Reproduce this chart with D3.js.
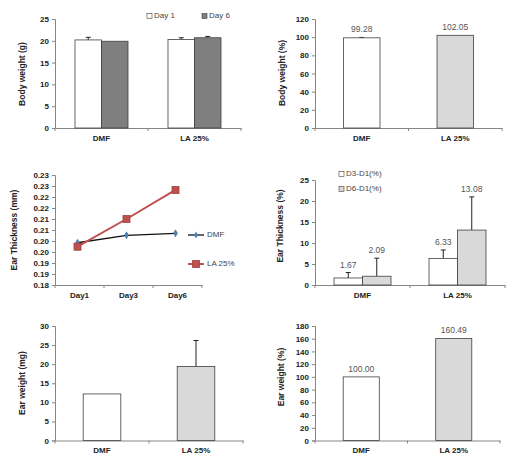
<!DOCTYPE html>
<html><head><meta charset="utf-8">
<script src="https://cdn.jsdelivr.net/npm/d3@7/dist/d3.min.js"></script>
<style>
body{margin:0;background:#fff;}
svg{font-family:"Liberation Sans",Arial,sans-serif;}
</style></head>
<body>
<svg id="c" width="517" height="468"></svg>
<script>
// ---------- DATA ----------
const groups = ["DMF", "LA 25%"];
// Panel 1: body weight (g)
const bwSeries = ["Day 1", "Day 6"];
const bwDay1 = [20.2, 20.3];
const bwDay1Err = [0.6, 0.4];
const bwDay6 = [19.9, 20.7];
const bwDay6Err = [0, 0.3];
const bwTicks = [0, 5, 10, 15, 20, 25];
// Panel 2: body weight (%)
const bwPct = [99.28, 102.05];
const bwPctErr = [0.4, 0];
const bwPctTicks = [0, 20, 40, 60, 80, 100, 120];
// Panel 3: ear thickness (mm)
const days = ["Day1", "Day3", "Day6"];
const etDMF = [0.1992, 0.2026, 0.2035];
const etLA = [0.1974, 0.2100, 0.2232];
const etTickValues = [0.18, 0.185, 0.19, 0.195, 0.20, 0.205, 0.21, 0.215, 0.22, 0.225, 0.23];
const etTickLabels = ["0.18", "0.19", "0.19", "0.20", "0.20", "0.21", "0.21", "0.22", "0.22", "0.23", "0.23"];
// Panel 4: ear thickness (%)
const etPctSeries = ["D3-D1(%)", "D6-D1(%)"];
const etD3 = [1.67, 6.33];
const etD3Err = [1.3, 2.0];
const etD6 = [2.09, 13.08];
const etD6Err = [4.3, 7.9];
const etPctTicks = [0, 5, 10, 15, 20, 25];
// Panel 5: ear weight (mg)
const ewMg = [12.2, 19.4];
const ewMgErr = [0, 6.8];
const ewMgTicks = [0, 5, 10, 15, 20, 25, 30];
// Panel 6: ear weight (%)
const ewPct = [100.00, 160.49];
const ewPctTicks = [0, 20, 40, 60, 80, 100, 120, 140, 160, 180];

// ---------- STYLE ----------
const WHITE = "#ffffff", DARK = "#7f7f7f", LIGHT = "#d9d9d9", BORDER = "#404040";
const AXIS = "#868686";
const svg = d3.select("#c");

function drawAxes(g, y, x, ticks, tickFmt, cfg) {
  const ya = d3.axisLeft(y).tickValues(ticks).tickSize(3).tickPadding(3).tickFormat(tickFmt);
  const yg = g.append("g").attr("transform", `translate(${cfg.x0},0)`).call(ya);
  yg.select(".domain").attr("stroke", AXIS);
  yg.selectAll(".tick line").attr("stroke", AXIS);
  yg.selectAll("text").attr("font-size", 8).attr("font-weight", "bold").attr("fill", "#222");
  const xa = d3.axisBottom(x).tickSize(0).tickPadding(7);
  const xg = g.append("g").attr("transform", `translate(0,${cfg.y0})`).call(xa);
  xg.select(".domain").attr("stroke", AXIS);
  xg.selectAll("text").attr("font-size", 8).attr("font-weight", "bold").attr("fill", "#222");
  const bounds = x.domain().map(d => x(d));
  bounds.push(x.range()[1]);
  g.append("g").selectAll("line").data(bounds).join("line")
    .attr("x1", d => d).attr("x2", d => d)
    .attr("y1", cfg.y0).attr("y2", cfg.y0 + 3).attr("stroke", AXIS);
  g.append("text").attr("transform", `translate(${cfg.tx},${cfg.ty}) rotate(-90)`)
    .attr("text-anchor", "middle").attr("dominant-baseline", "middle")
    .attr("font-size", 8.5).attr("font-weight", "bold").attr("fill", "#222").text(cfg.title);
}

function barPanel(cfg) {
  const g = svg.append("g");
  const y = d3.scaleLinear().domain(cfg.domain).range([cfg.y0, cfg.y1]);
  const x = d3.scaleBand().domain(groups).range([cfg.x0, cfg.x1]).padding(0);
  const nS = cfg.series.length;
  const sub = d3.scaleBand().domain(d3.range(nS))
    .range([x.bandwidth() * (1 - cfg.frac) / 2, x.bandwidth() * (1 + cfg.frac) / 2]).padding(0);
  drawAxes(g, y, x, cfg.ticks, d => d, cfg);
  cfg.series.forEach((s, si) => {
    const data = groups.map((grp, i) => ({grp, i, v: s.values[i], e: s.errs ? s.errs[i] : 0}));
    const eg = g.append("g");
    data.filter(d => d.e > 0).forEach(d => {
      const cx = x(d.grp) + sub(si) + sub.bandwidth() / 2;
      eg.append("line").attr("x1", cx).attr("x2", cx).attr("y1", y(d.v)).attr("y2", y(d.v + d.e))
        .attr("stroke", "#222").attr("stroke-width", 1);
      eg.append("line").attr("x1", cx - 2.5).attr("x2", cx + 2.5).attr("y1", y(d.v + d.e)).attr("y2", y(d.v + d.e))
        .attr("stroke", "#222").attr("stroke-width", 1);
    });
    g.append("g").selectAll("rect").data(data).join("rect")
      .attr("x", d => x(d.grp) + sub(si)).attr("width", sub.bandwidth())
      .attr("y", d => y(d.v)).attr("height", d => y(0) - y(d.v))
      .attr("fill", d => s.colors[d.i]).attr("stroke", BORDER).attr("stroke-width", 0.8);
    if (s.showLabels) {
      g.append("g").selectAll("text").data(data).join("text")
        .attr("x", d => x(d.grp) + sub(si) + sub.bandwidth() / 2)
        .attr("y", d => y(d.v + d.e) - 5)
        .attr("text-anchor", "middle").attr("font-size", 8.5).attr("fill", "#555")
        .text(d => d.v.toFixed(2));
    }
  });
  if (cfg.legend) {
    const lg = g.append("g");
    cfg.series.forEach((s, si) => {
      const p = cfg.legend[si];
      lg.append("rect").attr("x", p[0]).attr("y", p[1] - 2.5).attr("width", 5).attr("height", 5)
        .attr("fill", s.colors[0]).attr("stroke", BORDER).attr("stroke-width", 0.6);
      lg.append("text").attr("x", p[0] + 7).attr("y", p[1]).attr("dominant-baseline", "middle")
        .attr("font-size", 8).attr("fill", "#444").text(s.name);
    });
  }
}

// Panel 1
barPanel({x0: 55, x1: 241, y0: 128, y1: 19, domain: [0, 25], ticks: bwTicks, frac: 0.57,
  tx: 23, ty: 74, title: "Body weight (g)",
  series: [{name: bwSeries[0], values: bwDay1, errs: bwDay1Err, colors: [WHITE, WHITE]},
           {name: bwSeries[1], values: bwDay6, errs: bwDay6Err, colors: [DARK, DARK]}],
  legend: [[147, 16], [202, 16]]});
// Panel 2
barPanel({x0: 315, x1: 502, y0: 128, y1: 19, domain: [0, 120], ticks: bwPctTicks, frac: 0.39,
  tx: 283, ty: 73, title: "Body weight (%)",
  series: [{name: "pct", values: bwPct, errs: bwPctErr, colors: [WHITE, LIGHT], showLabels: true}]});
// Panel 4
barPanel({x0: 315, x1: 505, y0: 285, y1: 180, domain: [0, 25], ticks: etPctTicks, frac: 0.6,
  tx: 281, ty: 226, title: "Ear Thickness (%)",
  series: [{name: etPctSeries[0], values: etD3, errs: etD3Err, colors: [WHITE, WHITE], showLabels: true},
           {name: etPctSeries[1], values: etD6, errs: etD6Err, colors: [LIGHT, LIGHT], showLabels: true}],
  legend: [[339, 174], [339, 189]]});
// Panel 5
barPanel({x0: 55, x1: 243, y0: 440.5, y1: 326, domain: [0, 30], ticks: ewMgTicks, frac: 0.4,
  tx: 23, ty: 383, title: "Ear weight (mg)",
  series: [{name: "mg", values: ewMg, errs: ewMgErr, colors: [WHITE, LIGHT]}]});
// Panel 6
barPanel({x0: 315, x1: 500, y0: 440.5, y1: 326, domain: [0, 180], ticks: ewPctTicks, frac: 0.39,
  tx: 282, ty: 377, title: "Ear weight (%)",
  series: [{name: "pct", values: ewPct, colors: [WHITE, LIGHT], showLabels: true}]});

// Panel 3: line chart
(function(){
  const g = svg.append("g");
  const y = d3.scaleLinear().domain([0.18, 0.23]).range([285, 175]);
  const x = d3.scaleBand().domain(days).range([55, 202]).padding(0);
  drawAxes(g, y, x, etTickValues, (d, i) => etTickLabels[i],
    {x0: 55, y0: 285, tx: 15, ty: 230, title: "Ear Thickness (mm)"});
  const cx = d => x(d) + x.bandwidth() / 2 - 2;
  const line = d3.line().x((d, i) => cx(days[i])).y(d => y(d));
  g.append("path").datum(etDMF).attr("d", line).attr("fill", "none").attr("stroke", "#111").attr("stroke-width", 1.3);
  g.append("path").datum(etLA).attr("d", line).attr("fill", "none").attr("stroke", "#c0504d").attr("stroke-width", 2);
  const diamond = d3.symbol().type(d3.symbolDiamond).size(14);
  g.append("g").selectAll("path").data(etDMF).join("path")
    .attr("transform", (d, i) => `translate(${cx(days[i])},${y(d)})`).attr("d", diamond)
    .attr("fill", "#4f81bd").attr("stroke", "#385d8a").attr("stroke-width", 0.5);
  g.append("g").selectAll("rect").data(etLA).join("rect")
    .attr("x", (d, i) => cx(days[i]) - 3.5).attr("y", d => y(d) - 3.5).attr("width", 7).attr("height", 7)
    .attr("fill", "#c0504d").attr("stroke", "#a0403d").attr("stroke-width", 0.8);
  const lg = g.append("g");
  lg.append("line").attr("x1", 188).attr("x2", 204).attr("y1", 235).attr("y2", 235).attr("stroke", "#111").attr("stroke-width", 1.3);
  lg.append("path").attr("transform", "translate(196,235)").attr("d", diamond).attr("fill", "#4f81bd");
  lg.append("text").attr("x", 207).attr("y", 235).attr("dominant-baseline", "middle").attr("font-size", 8).attr("fill", "#444").text("DMF");
  lg.append("line").attr("x1", 188).attr("x2", 204).attr("y1", 264).attr("y2", 264).attr("stroke", "#c0504d").attr("stroke-width", 2);
  lg.append("rect").attr("x", 192.5).attr("y", 260.5).attr("width", 7).attr("height", 7).attr("fill", "#c0504d").attr("stroke", "#a0403d").attr("stroke-width", 0.8);
  lg.append("text").attr("x", 207).attr("y", 264).attr("dominant-baseline", "middle").attr("font-size", 8).attr("fill", "#444").text("LA 25%");
})();
</script>
</body></html>
